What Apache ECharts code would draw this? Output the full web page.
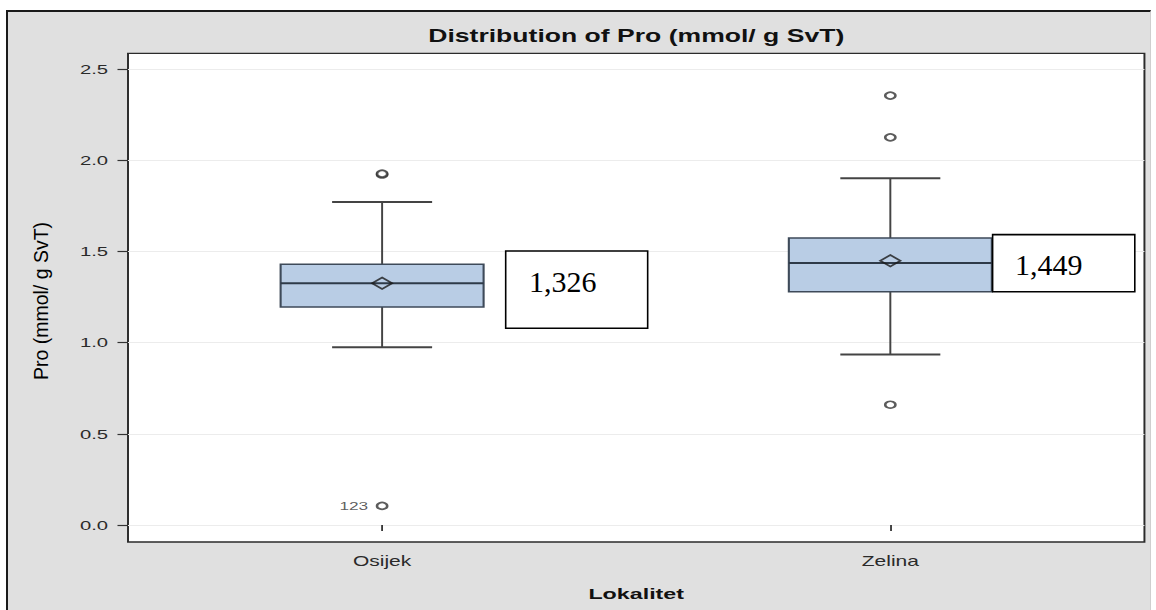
<!DOCTYPE html>
<html><head><meta charset="utf-8">
<script src="https://cdn.jsdelivr.net/npm/echarts@6/dist/echarts.min.js"></script>
<style>
html,body{margin:0;padding:0;background:#fff;width:1156px;height:610px;overflow:hidden;}
#frame{position:absolute;left:6px;top:10px;width:1142px;height:610px;background:#e0e0e0;border-left:2px solid #1a1a1a;border-top:2px solid #1a1a1a;border-right:1px solid #cfcfcf;}
#chart{position:absolute;left:0;top:0;width:770px;height:610px;transform:scaleX(1.501299);transform-origin:0 0;}
</style></head><body>
<div id="frame"></div><div id="chart"></div>
<script>
// ---- data ----
const categories = ['Osijek', 'Zelina'];
// [lower whisker, Q1, median, Q3, upper whisker]
const boxStats = [
  [0.975, 1.196, 1.326, 1.430, 1.772],
  [0.935, 1.279, 1.437, 1.574, 1.902]
];
const means = [1.326, 1.449];
const meanLabels = ['1,326', '1,449'];
const outliers = [[0, 1.922], [0, 1.927], [0, 0.105], [1, 2.355], [1, 2.126], [1, 0.660]];
const outlierIds = ['', '', '123', '', '', ''];
const yTicks = [0, 0.5, 1.0, 1.5, 2.0, 2.5];

// ---- layout (not data) ----
const S = 1156 / 770; // horizontal stretch of the original picture
const noteLayout = [
  {dx: 123.6, dy: -32.25, w: 142, h: 77.3, tx: 23.3, ty: 31},
  {dx: 102.3, dy: -26.2, w: 142.2, h: 57.2, tx: 22.4, ty: 29.4}
];

const chart = echarts.init(document.getElementById('chart'), null, {renderer: 'svg', width: 770, height: 610});

const option = {
  animation: false,
  backgroundColor: 'transparent',
  grid: {
    left: 85.26, right: 7.7, top: 53.3, bottom: 68,
    show: true, backgroundColor: '#fff', borderColor: '#2b2b2b', borderWidth: 1.3,
    containLabel: false, outerBoundsMode: 'none'
  },
  xAxis: {
    type: 'category', data: categories, boundaryGap: true,
    axisLine: {show: false},
    axisTick: {show: true, alignWithLabel: true, length: 6, lineStyle: {color: '#333', width: 1.2}},
    axisLabel: {fontFamily: 'Liberation Sans', fontSize: 14, color: '#2a2a2a', margin: 12},
    splitLine: {show: false},
    name: 'Lokalitet', nameLocation: 'middle', nameGap: 44,
    nameTextStyle: {fontFamily: 'Liberation Sans', fontWeight: 'bold', fontSize: 15.5, color: '#111'}
  },
  yAxis: {
    type: 'value', min: -0.093, max: 2.587,
    axisLine: {show: false},
    axisTick: {show: true, length: 7, customValues: yTicks, lineStyle: {color: '#333', width: 1.2}},
    axisLabel: {customValues: yTicks, formatter: v => Number(v).toFixed(1),
      fontFamily: 'Liberation Sans', fontSize: 13.5, color: '#2a2a2a', margin: 13.3},
    splitLine: {show: true, lineStyle: {color: '#ececec', width: 1}}
  },
  graphic: [
    {type: 'text', x: 423.8, y: 36, z: 100,
      style: {text: 'Distribution of Pro (mmol/ g SvT)', fontFamily: 'Liberation Sans', fontWeight: 'bold',
        fontSize: 17.7, fill: '#111', textAlign: 'center', textVerticalAlign: 'middle', align: 'center', verticalAlign: 'middle'}},
    {type: 'text', x: 41 / S, y: 301, rotation: Math.PI / 2, scaleY: 1 / S, z: 100,
      style: {text: 'Pro (mmol/ g SvT)', fontFamily: 'Liberation Sans', fontSize: 19.5, fill: '#000',
        textAlign: 'center', textVerticalAlign: 'middle', align: 'center', verticalAlign: 'middle'}}
  ],
  series: [
    {
      type: 'custom', name: 'box',
      data: boxStats.map((s, i) => [i].concat(s)),
      encode: {x: 0, y: [1, 2, 3, 4, 5]},
      z: 2,
      renderItem: function (params, api) {
        const idx = api.value(0);
        const lo = api.coord([idx, api.value(1)]);
        const q1 = api.coord([idx, api.value(2)]);
        const md = api.coord([idx, api.value(3)]);
        const q3 = api.coord([idx, api.value(4)]);
        const hi = api.coord([idx, api.value(5)]);
        const band = api.size([1, 0])[0];
        const hw = band * 0.1997, cw = band * 0.0984;
        const x = md[0];
        const wl = {stroke: '#444', lineWidth: 1.3};
        const cap = {stroke: '#444', lineWidth: 2};
        return {type: 'group', children: [
          {type: 'line', shape: {x1: x, y1: hi[1], x2: x, y2: q3[1]}, style: wl},
          {type: 'line', shape: {x1: x, y1: q1[1], x2: x, y2: lo[1]}, style: wl},
          {type: 'line', shape: {x1: x - cw, y1: hi[1], x2: x + cw, y2: hi[1]}, style: cap},
          {type: 'line', shape: {x1: x - cw, y1: lo[1], x2: x + cw, y2: lo[1]}, style: cap},
          {type: 'rect', shape: {x: x - hw, y: q3[1], width: 2 * hw, height: q1[1] - q3[1]},
            style: {fill: '#b9cde5', stroke: '#3e4a59', lineWidth: 1.4}},
          {type: 'line', shape: {x1: x - hw, y1: md[1], x2: x + hw, y2: md[1]},
            style: {stroke: '#2e3a48', lineWidth: 1.8}}
        ]};
      }
    },
    {
      type: 'scatter', name: 'mean', z: 3,
      data: means.map((m, i) => [i, m]),
      symbol: 'diamond', symbolSize: [13.3, 11.5],
      itemStyle: {color: 'rgba(0,0,0,0)', borderColor: '#1a1a1a', borderWidth: 1.6}
    },
    {
      type: 'scatter', name: 'outliers', z: 3,
      data: outliers.map((p, i) => ({
        value: p,
        label: {show: !!outlierIds[i], formatter: outlierIds[i]}
      })),
      symbol: 'circle', symbolSize: 6.8,
      itemStyle: {color: '#fff', borderColor: '#333', borderWidth: 1.7},
      label: {position: 'left', distance: 5, fontFamily: 'Liberation Sans', fontSize: 11.5, color: '#333'}
    },
    {
      type: 'custom', name: 'notes', z: 5,
      data: means.map((m, i) => [i, m]),
      encode: {x: 0, y: 1},
      renderItem: function (params, api) {
        const i = params.dataIndex;
        const p = api.coord([api.value(0), api.value(1)]);
        const o = noteLayout[i];
        return {type: 'group', x: p[0], y: p[1], scaleX: 1 / S, children: [
          {type: 'rect', shape: {x: o.dx, y: o.dy, width: o.w, height: o.h},
            style: {fill: '#fff', stroke: '#000', lineWidth: 1.6}},
          {type: 'text', x: o.dx + o.tx, y: o.dy + o.ty,
            style: {text: meanLabels[i], fontFamily: 'Liberation Serif', fontSize: 30, fill: '#000',
              align: 'left', verticalAlign: 'middle'}}
        ]};
      }
    }
  ]
};
chart.setOption(option);
</script></body></html>
